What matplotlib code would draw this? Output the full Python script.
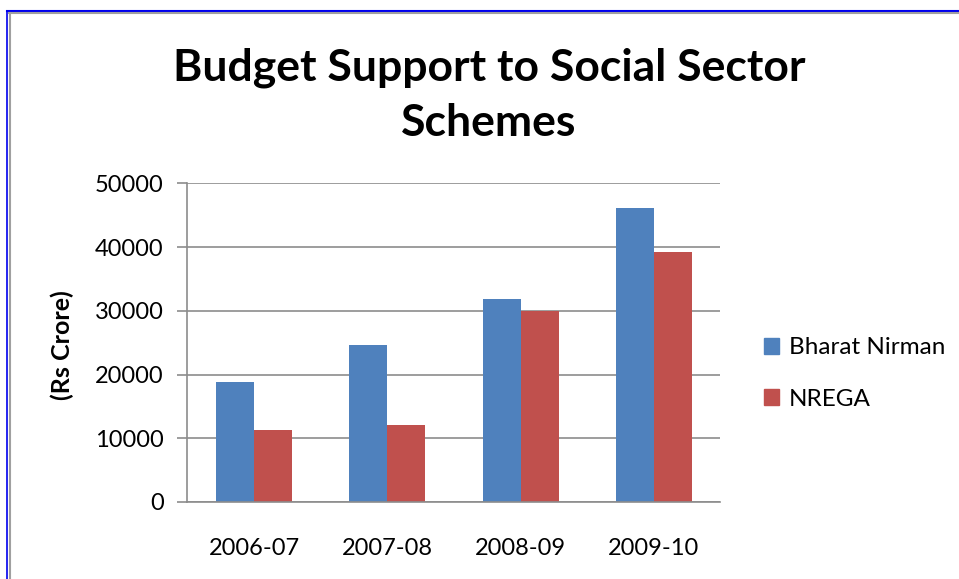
import matplotlib.pyplot as plt
import numpy as np
from matplotlib.lines import Line2D
from matplotlib.patches import Patch

years = ["2006-07", "2007-08", "2008-09", "2009-10"]
bharat_nirman = [18800, 24700, 31800, 46200]
nrega = [11300, 12100, 30000, 39200]
y_ticks = [0, 10000, 20000, 30000, 40000, 50000]

blue = "#4F81BD"
red = "#C0504D"

plt.rcParams["font.family"] = ["Lato", "DejaVu Sans"]

fig = plt.figure(figsize=(9.59, 5.79), dpi=100)
ax = fig.add_axes([0.1955, 0.133, 0.5558, 0.5504])

x = np.arange(len(years))
w = 1 / 3.5
ax.bar(x - w / 2, bharat_nirman, w, color=blue, label="Bharat Nirman")
ax.bar(x + w / 2, nrega, w, color=red, label="NREGA")

ax.set_xlim(-0.5, len(years) - 0.5)
ax.set_ylim(0, 50000)
ax.set_yticks(y_ticks)
ax.set_yticklabels([str(v) for v in y_ticks])
ax.set_xticks(x)
ax.set_xticklabels(years)
ax.yaxis.grid(True, color="#8c8c8c", linewidth=1.2)
ax.set_axisbelow(True)
for s in ["top", "right"]:
    ax.spines[s].set_visible(False)
ax.spines["left"].set_color("#8c8c8c")
ax.spines["bottom"].set_color("#8c8c8c")
ax.spines["left"].set_linewidth(1.2)
ax.spines["bottom"].set_linewidth(1.2)
ax.tick_params(axis="y", length=7, width=1.2, color="#8c8c8c", labelsize=17, pad=10)
ax.tick_params(axis="x", length=0, labelsize=17, pad=26)

fig.text(0.51, 0.835, "Budget Support to Social Sector\nSchemes", ha="center",
         va="center", fontsize=32, fontweight="bold", linespacing=1.45)
fig.text(0.065, 0.404, "(Rs Crore)", rotation=90, ha="center", va="center",
         fontsize=18, fontweight="bold")

handles = [Patch(color=blue), Patch(color=red)]
ax.legend(handles, ["Bharat Nirman", "NREGA"], loc="center left",
          bbox_to_anchor=(1.04, 0.403), frameon=False, fontsize=17.5,
          handlelength=0.65, handleheight=0.65, labelspacing=1.25, handletextpad=0.4)

# window border
fig.add_artist(Line2D([0.0073, 1.0], [0.9818, 0.9818], color="#0000ee", linewidth=1.5))
fig.add_artist(Line2D([0.0078, 0.0078], [0.0, 0.9818], color="#0000ee", linewidth=1.2))
fig.add_artist(Line2D([0.0098, 1.0], [0.9775, 0.9775], color="#a0a0a0", linewidth=1.5))
fig.add_artist(Line2D([0.0102, 0.0102], [0.0, 0.9775], color="#a0a0a0", linewidth=1.5))

fig.savefig("out.png", dpi=100)
